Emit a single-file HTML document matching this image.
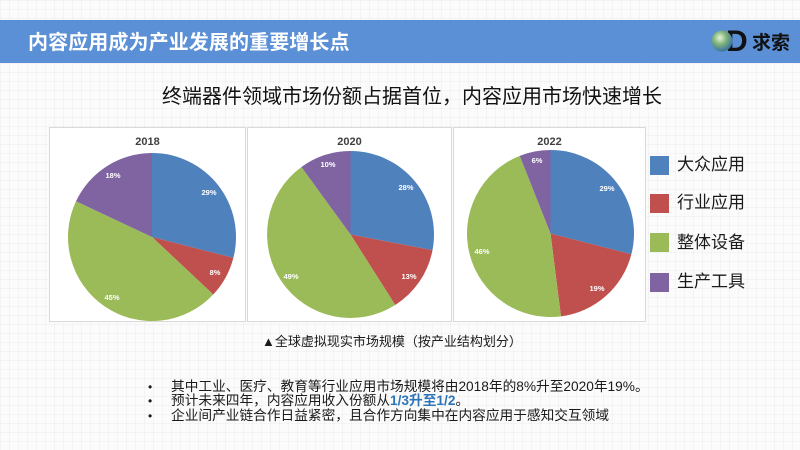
<!DOCTYPE html>
<html><head><meta charset="utf-8">
<style>
html,body{margin:0;padding:0;}
body{width:800px;height:450px;position:relative;overflow:hidden;background-color:#fbfbfb;
background-image:linear-gradient(to right, rgba(0,0,0,0.028) 1px, transparent 1px),linear-gradient(to bottom, rgba(0,0,0,0.028) 1px, transparent 1px);
background-size:9px 9px;
font-family:"Liberation Sans","Noto Sans CJK SC",sans-serif;}
.abs{position:absolute;white-space:nowrap;}
.hdr{position:absolute;left:0;top:20px;width:800px;height:43px;background:#5b8fd6;}
.title{left:28px;top:29px;font-size:20px;line-height:28px;font-weight:bold;color:#fff;letter-spacing:0.1px;}
.sub{left:162px;top:83px;font-size:20px;line-height:28px;color:#111;}
.cap{left:262px;top:333px;font-size:13px;line-height:18px;color:#1a1a1a;}
.bl{left:171px;font-size:13.7px;line-height:18px;color:#1a1a1a;}
.dot{left:148px;font-size:12px;line-height:18px;color:#1a1a1a;}
.leg{font-size:17px;line-height:22px;color:#1a1a1a;left:677px;}
.sq{position:absolute;left:650px;width:19px;height:19px;}
</style></head>
<body>
<div class="hdr"></div>
<div class="abs title">内容应用成为产业发展的重要增长点</div>
<svg class="abs" style="left:700px;top:20px" width="100" height="43" viewBox="0 0 100 43">
  <defs><radialGradient id="g" cx="0.4" cy="0.35" r="0.7"><stop offset="0" stop-color="#e8f3d8"/><stop offset="0.45" stop-color="#7fb37a"/><stop offset="1" stop-color="#2f6aa8"/></radialGradient></defs>
  <text x="26" y="31" font-family="Liberation Sans" font-weight="bold" font-size="30" fill="#111">D</text>
  <circle cx="22" cy="21" r="10.5" fill="url(#g)"/>
  <text x="52" y="29" font-family="Liberation Sans, Noto Sans CJK SC, sans-serif" font-weight="bold" font-size="19" fill="#111">求索</text>
</svg>
<div class="abs sub">终端器件领域市场份额占据首位，内容应用市场快速增长</div>

<svg class="abs" style="left:0;top:0" width="800" height="450" viewBox="0 0 800 450">
  <g fill="#ffffff" stroke="#d9d9d9" stroke-width="1">
    <rect x="49.5" y="127.5" width="196" height="194"/>
    <rect x="247.5" y="127.5" width="204" height="194"/>
    <rect x="453.5" y="127.5" width="192" height="194"/>
  </g>
  <g font-family="Liberation Sans, sans-serif" font-weight="bold" font-size="11" fill="#404040" text-anchor="middle">
    <text x="147.5" y="145">2018</text>
    <text x="349.5" y="145">2020</text>
    <text x="549.5" y="145">2022</text>
  </g>
  <!-- 2018 -->
  <path d="M152,237 L152,153 A84,84 0 0 1 233.36,257.89 Z" fill="#4f81bd"/>
  <path d="M152,237 L233.36,257.89 A84,84 0 0 1 213.24,294.50 Z" fill="#c0504d"/>
  <path d="M152,237 L213.24,294.50 A84,84 0 0 1 76.00,201.23 Z" fill="#9bbb59"/>
  <path d="M152,237 L76.00,201.23 A84,84 0 0 1 152,153 Z" fill="#8064a2"/>
  <!-- 2020 -->
  <path d="M350.5,234.5 L350.5,151 A83.5,83.5 0 0 1 432.52,250.15 Z" fill="#4f81bd"/>
  <path d="M350.5,234.5 L432.52,250.15 A83.5,83.5 0 0 1 395.24,305.00 Z" fill="#c0504d"/>
  <path d="M350.5,234.5 L395.24,305.00 A83.5,83.5 0 0 1 301.42,166.95 Z" fill="#9bbb59"/>
  <path d="M350.5,234.5 L301.42,166.95 A83.5,83.5 0 0 1 350.5,151 Z" fill="#8064a2"/>
  <!-- 2022 -->
  <path d="M550.5,233.5 L550.5,150 A83.5,83.5 0 0 1 631.38,254.27 Z" fill="#4f81bd"/>
  <path d="M550.5,233.5 L631.38,254.27 A83.5,83.5 0 0 1 560.96,316.34 Z" fill="#c0504d"/>
  <path d="M550.5,233.5 L560.96,316.34 A83.5,83.5 0 0 1 519.76,155.86 Z" fill="#9bbb59"/>
  <path d="M550.5,233.5 L519.76,155.86 A83.5,83.5 0 0 1 550.5,150 Z" fill="#8064a2"/>
  <g font-family="Liberation Sans, sans-serif" font-weight="bold" font-size="7.5" fill="#ffffff" text-anchor="middle">
    <text x="209" y="195">29%</text>
    <text x="215" y="275">8%</text>
    <text x="112" y="300">45%</text>
    <text x="113" y="178">18%</text>
    <text x="406" y="190">28%</text>
    <text x="409" y="279">13%</text>
    <text x="291" y="279">49%</text>
    <text x="328" y="167">10%</text>
    <text x="607" y="191">29%</text>
    <text x="597" y="291">19%</text>
    <text x="482" y="254">46%</text>
    <text x="537" y="163">6%</text>
  </g>
</svg>

<div class="sq" style="top:156px;background:#4f81bd"></div>
<div class="sq" style="top:194px;background:#c0504d"></div>
<div class="sq" style="top:233px;background:#9bbb59"></div>
<div class="sq" style="top:273px;background:#8064a2"></div>
<div class="abs leg" style="top:154px">大众应用</div>
<div class="abs leg" style="top:192px">行业应用</div>
<div class="abs leg" style="top:232px">整体设备</div>
<div class="abs leg" style="top:271px">生产工具</div>

<div class="abs cap">▲全球虚拟现实市场规模（按产业结构划分）</div>

<div class="abs dot" style="top:378px">•</div>
<div class="abs dot" style="top:392px">•</div>
<div class="abs dot" style="top:407px">•</div>
<div class="abs bl" style="top:378px">其中工业、医疗、教育等行业应用市场规模将由2018年的8%升至2020年19%。</div>
<div class="abs bl" style="top:392px">预计未来四年，内容应用收入份额从<b style="color:#2e75b6">1/3升至1/2</b>。</div>
<div class="abs bl" style="top:407px">企业间产业链合作日益紧密，且合作方向集中在内容应用于感知交互领域</div>
</body></html>
